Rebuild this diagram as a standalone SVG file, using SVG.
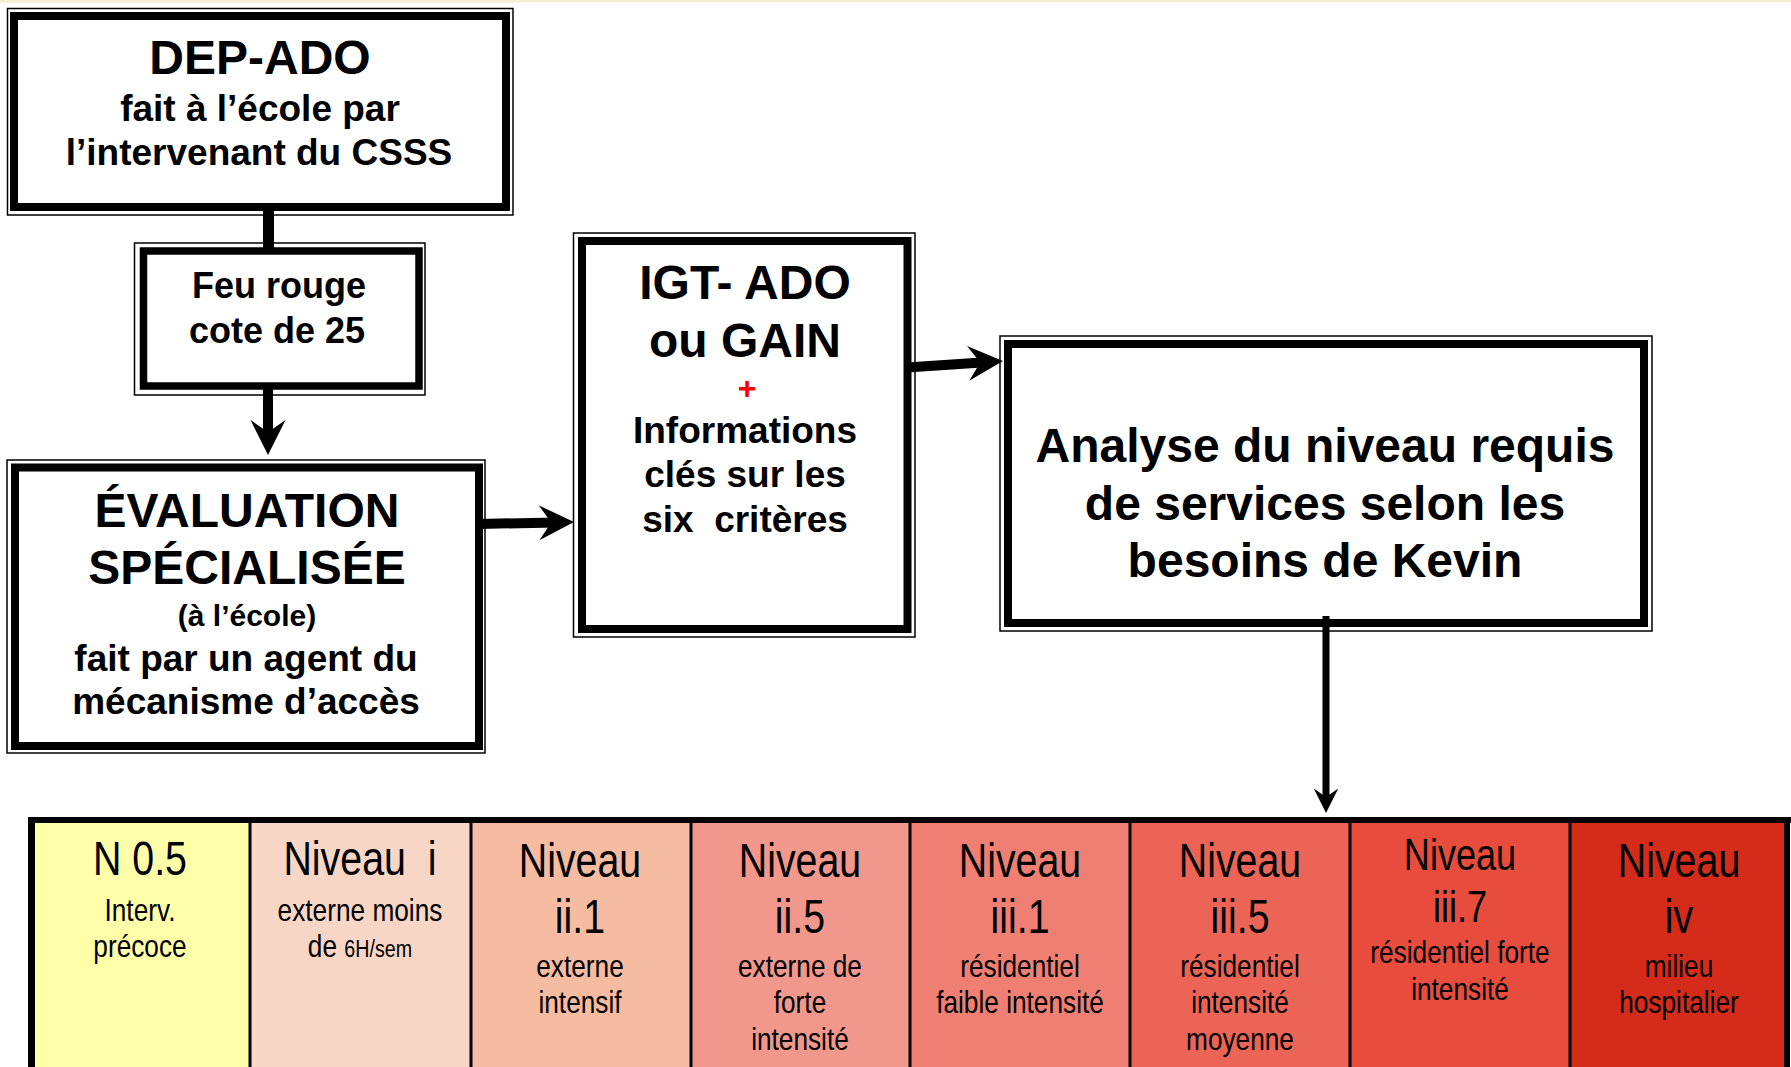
<svg xmlns="http://www.w3.org/2000/svg" width="1791" height="1067" viewBox="0 0 1791 1067">
<defs>
<style>
.thick{fill:#fff;stroke:#000;stroke-width:8}
.thin{fill:none;stroke:#000;stroke-width:1.5}
.b{font-family:"Liberation Sans",Arial,sans-serif;font-weight:bold;fill:#000;text-anchor:middle}
.n{font-family:"Liberation Sans",Arial,sans-serif;fill:#000;text-anchor:middle}
.big{font-size:48px}
.sm{font-size:32px}
.conn{stroke:#000;fill:none;stroke-linecap:butt}
.div{stroke:#000;stroke-width:3}
</style>
<marker id="ah" viewBox="0 0 10 10" refX="5" refY="5" markerWidth="3.5" markerHeight="3.5" markerUnits="strokeWidth" orient="auto" preserveAspectRatio="none">
<path d="M0,0 L10,5 L0,10 L3.5,5 z" fill="#000"/>
</marker>
</defs>
<rect x="0" y="0" width="1791" height="1067" fill="#fff"/>
<rect x="0" y="0" width="1791" height="2.5" fill="#F3F0CF"/>

<g id="dep-ado">
<rect class="thin" x="7.5" y="8.5" width="505.5" height="206.5"/>
<rect class="thick" x="14" y="16" width="492" height="191"/>
<text class="b" x="260" y="74" font-size="48">DEP-ADO</text>
<text class="b" x="260" y="121" font-size="37">fait à l’école par</text>
<text class="b" x="259" y="165" font-size="37">l’intervenant du CSSS</text>
</g>

<g id="feu-rouge">
<rect class="thin" x="134.5" y="243" width="290.5" height="152"/>
<rect class="thick" x="143.5" y="251" width="275.5" height="135" style="stroke-width:7.5"/>
<text class="b" x="279" y="298" font-size="36">Feu rouge</text>
<text class="b" x="277" y="343" font-size="36">cote de 25</text>
</g>

<g id="evaluation">
<rect class="thin" x="7" y="460" width="478" height="293"/>
<rect class="thick" x="15" y="467.5" width="464" height="278.5"/>
<text class="b" x="247" y="527" font-size="48">ÉVALUATION</text>
<text class="b" x="247" y="584" font-size="48">SPÉCIALISÉE</text>
<text class="b" x="247" y="626" font-size="30">(à l’école)</text>
<text class="b" x="246" y="671" font-size="37">fait par un agent du</text>
<text class="b" x="246" y="714" font-size="37">mécanisme d’accès</text>
</g>

<g id="igt-ado">
<rect class="thin" x="573.5" y="233" width="341.5" height="404"/>
<rect class="thick" x="582" y="241" width="325.5" height="388"/>
<text class="b" x="745" y="299" font-size="48">IGT- ADO</text>
<text class="b" x="745" y="357" font-size="48">ou GAIN</text>
<text class="b" x="747" y="399" font-size="32" style="fill:#FF0000">+</text>
<text class="b" x="745" y="443" font-size="37">Informations</text>
<text class="b" x="745" y="487" font-size="37">clés sur les</text>
<text class="b" x="745" y="532" font-size="37" xml:space="preserve">six  critères</text>
</g>

<g id="analyse">
<rect class="thin" x="1000" y="336" width="652" height="295"/>
<rect class="thick" x="1008" y="344" width="636" height="279"/>
<text class="b" x="1325" y="462" font-size="48">Analyse du niveau requis</text>
<text class="b" x="1325" y="520" font-size="48">de services selon les</text>
<text class="b" x="1325" y="577" font-size="48">besoins de Kevin</text>
</g>

<g id="niveaux">
<rect x="31" y="820" width="219" height="250" fill="#FFFFAA"/>
<rect x="250" y="820" width="221" height="250" fill="#F8D6C6"/>
<rect x="471" y="820" width="220" height="250" fill="#F5BCA1"/>
<rect x="691" y="820" width="219" height="250" fill="#F2978B"/>
<rect x="910" y="820" width="220" height="250" fill="#EF7F72"/>
<rect x="1130" y="820" width="220" height="250" fill="#EC6455"/>
<rect x="1350" y="820" width="220" height="250" fill="#E84C3D"/>
<rect x="1570" y="820" width="217" height="250" fill="#D42B1B"/>
<line class="div" x1="250" y1="820" x2="250" y2="1070"/>
<line class="div" x1="471" y1="820" x2="471" y2="1070"/>
<line class="div" x1="691" y1="820" x2="691" y2="1070"/>
<line class="div" x1="910" y1="820" x2="910" y2="1070"/>
<line class="div" x1="1130" y1="820" x2="1130" y2="1070"/>
<line class="div" x1="1350" y1="820" x2="1350" y2="1070"/>
<line class="div" x1="1570" y1="820" x2="1570" y2="1070"/>
<line x1="28" y1="820" x2="1791" y2="820" stroke="#000" stroke-width="6"/>
<line x1="31.5" y1="817" x2="31.5" y2="1070" stroke="#000" stroke-width="7"/>
<line x1="1787" y1="817" x2="1787" y2="1070" stroke="#000" stroke-width="6"/>

<g transform="scale(0.82,1)">
<text class="n big" x="170.7" y="875">N 0.5</text>
<text class="n sm" x="170.7" y="921">Interv.</text>
<text class="n sm" x="170.7" y="957">précoce</text>

<text class="n big" x="439" y="875" xml:space="preserve">Niveau  i</text>
<text class="n sm" x="439" y="921">externe moins</text>
<text class="n sm" x="439" y="957">de <tspan font-size="24">6H/sem</tspan></text>

<text class="n big" x="707.3" y="877">Niveau</text>
<text class="n big" x="707.3" y="933">ii.1</text>
<text class="n sm" x="707.3" y="977">externe</text>
<text class="n sm" x="707.3" y="1013">intensif</text>

<text class="n big" x="975.6" y="877">Niveau</text>
<text class="n big" x="975.6" y="933">ii.5</text>
<text class="n sm" x="975.6" y="977">externe de</text>
<text class="n sm" x="975.6" y="1013">forte</text>
<text class="n sm" x="975.6" y="1050">intensité</text>

<text class="n big" x="1243.9" y="877">Niveau</text>
<text class="n big" x="1243.9" y="933">iii.1</text>
<text class="n sm" x="1243.9" y="977">résidentiel</text>
<text class="n sm" x="1243.9" y="1013">faible intensité</text>

<text class="n big" x="1512.2" y="877">Niveau</text>
<text class="n big" x="1512.2" y="933">iii.5</text>
<text class="n sm" x="1512.2" y="977">résidentiel</text>
<text class="n sm" x="1512.2" y="1013">intensité</text>
<text class="n sm" x="1512.2" y="1050">moyenne</text>

<text class="n" x="1780.5" y="870" font-size="44">Niveau</text>
<text class="n" x="1780.5" y="922" font-size="44">iii.7</text>
<text class="n sm" x="1780.5" y="963">résidentiel forte</text>
<text class="n sm" x="1780.5" y="1000">intensité</text>

<text class="n big" x="2047.6" y="877">Niveau</text>
<text class="n big" x="2047.6" y="933">iv</text>
<text class="n sm" x="2047.6" y="977">milieu</text>
<text class="n sm" x="2047.6" y="1013">hospitalier</text>
</g>
</g>

<g id="connectors">
<line class="conn" x1="268.5" y1="207" x2="268.5" y2="251" stroke-width="11"/>
<line class="conn" x1="268" y1="386" x2="268" y2="437.5" stroke-width="10" marker-end="url(#ah)"/>
<line class="conn" x1="479" y1="524" x2="556.5" y2="522.4" stroke-width="10" marker-end="url(#ah)"/>
<line class="conn" x1="907" y1="367.5" x2="985.5" y2="362.2" stroke-width="10" marker-end="url(#ah)"/>
<line class="conn" x1="1326" y1="616" x2="1326" y2="800.75" stroke-width="7" marker-end="url(#ah)"/>
</g>
</svg>
